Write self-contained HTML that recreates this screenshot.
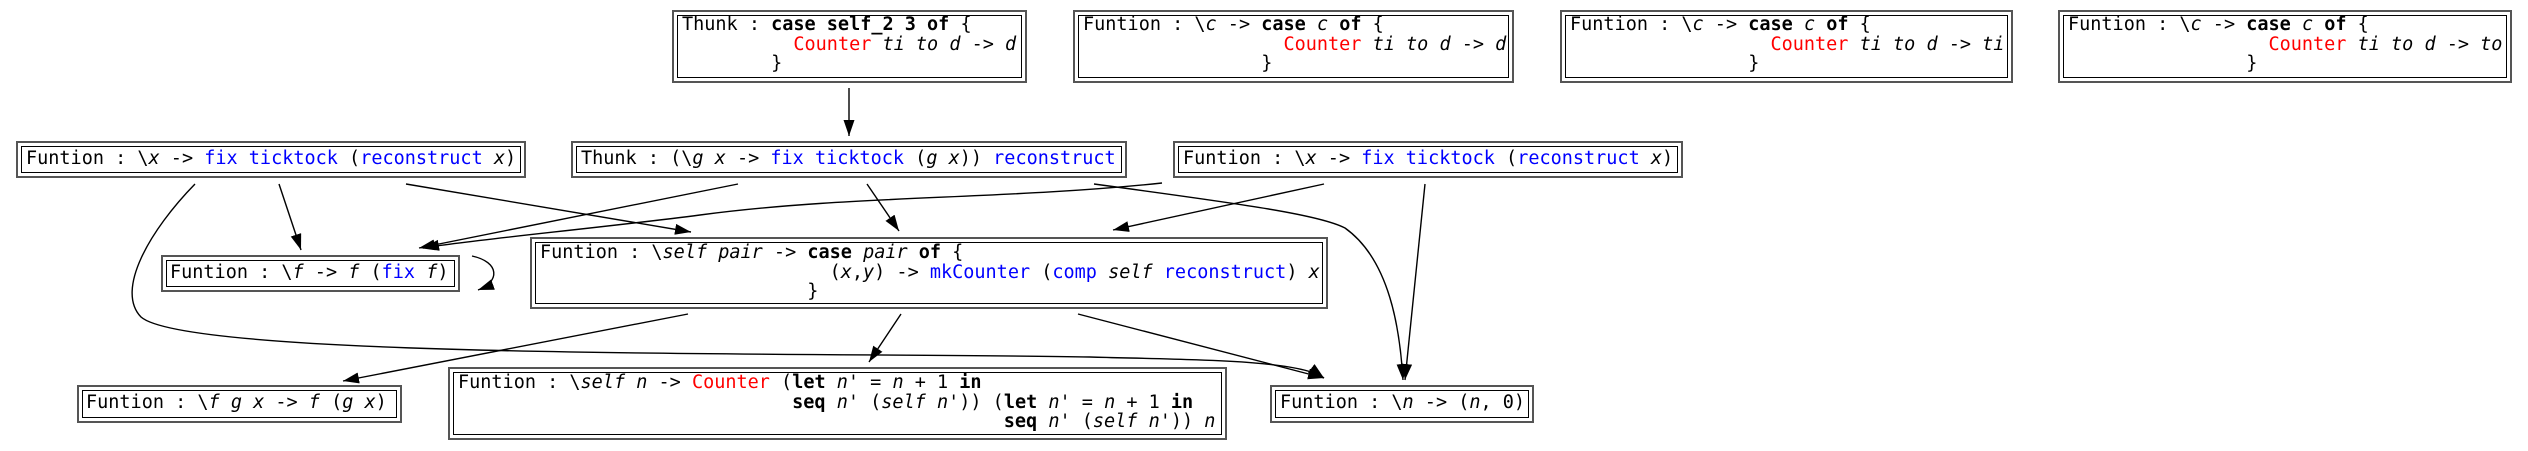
<!DOCTYPE html>
<html><head><meta charset="utf-8">
<style>
html,body{margin:0;padding:0;background:#fff;}
body{width:2528px;height:451px;position:relative;overflow:hidden;}
.n{position:absolute;border:2px solid #555;box-sizing:border-box;}
.n::after{content:"";position:absolute;left:3px;top:3px;right:3px;bottom:3px;border:1.5px solid #000;}
.t{position:absolute;white-space:pre;font-family:"DejaVu Sans Mono","Liberation Mono",monospace;font-size:18.5px;line-height:19.5px;color:#000;}
b{font-weight:bold}
i{font-style:italic}
.bl{color:#0000ff}
.r{color:#ff0000}
svg{position:absolute;left:0;top:0}
</style></head><body>
<svg width="2528" height="451" viewBox="0 0 2528 451">
<defs><marker id="a" markerUnits="userSpaceOnUse" markerWidth="18" markerHeight="12" refX="16" refY="5.5" orient="auto"><path d="M0,0 L16,5.5 L0,11 z" fill="#000"/></marker></defs>
<g fill="none" stroke="#000" stroke-width="1.4" marker-end="url(#a)">
<path d="M849,88 L849,136"/>
<path d="M279,184 L301,250"/>
<path d="M406,184 L691,232"/>
<path d="M195,184 C150,230 115,290 141,317 C190,360 820,352 1090,357 C1200,360 1300,360 1324,378"/>
<path d="M738,184 L419,248"/>
<path d="M867,184 L899,231"/>
<path d="M1094,184 C1250,205 1320,215 1345,228 C1390,260 1400,330 1403,380"/>
<path d="M1162,183 C1000,200 850,195 700,215 C600,228 470,240 423,248"/>
<path d="M1324,184 L1113,230"/>
<path d="M1425,184 L1405,380"/>
<path d="M472,256 C500,262 500,282 478,290"/>
<path d="M688,314 L343,381"/>
<path d="M901,314 L869,362"/>
<path d="M1078,314 L1324,378"/>
</g>
</svg>

<div class="n" style="left:672px;top:10px;width:355px;height:73px"></div>
<div class="t" style="left:682px;top:15px">Thunk : <b>case self_2 3 of</b> {
          <span class="r">Counter</span> <i>ti</i> <i>to</i> <i>d</i> -&gt; <i>d</i>
        }</div>

<div class="n" style="left:1073px;top:10px;width:441px;height:73px"></div>
<div class="t" style="left:1083px;top:15px">Funtion : \<i>c</i> -&gt; <b>case</b> <i>c</i> <b>of</b> {
                  <span class="r">Counter</span> <i>ti</i> <i>to</i> <i>d</i> -&gt; <i>d</i>
                }</div>

<div class="n" style="left:1560px;top:10px;width:453px;height:73px"></div>
<div class="t" style="left:1570px;top:15px">Funtion : \<i>c</i> -&gt; <b>case</b> <i>c</i> <b>of</b> {
                  <span class="r">Counter</span> <i>ti</i> <i>to</i> <i>d</i> -&gt; <i>ti</i>
                }</div>

<div class="n" style="left:2058px;top:10px;width:454px;height:73px"></div>
<div class="t" style="left:2068px;top:15px">Funtion : \<i>c</i> -&gt; <b>case</b> <i>c</i> <b>of</b> {
                  <span class="r">Counter</span> <i>ti</i> <i>to</i> <i>d</i> -&gt; <i>to</i>
                }</div>

<div class="n" style="left:16px;top:141px;width:510px;height:37px"></div>
<div class="t" style="left:26px;top:149px">Funtion : \<i>x</i> -&gt; <span class="bl">fix</span> <span class="bl">ticktock</span> (<span class="bl">reconstruct</span> <i>x</i>)</div>

<div class="n" style="left:571px;top:141px;width:556px;height:37px"></div>
<div class="t" style="left:581px;top:149px">Thunk : (\<i>g</i> <i>x</i> -&gt; <span class="bl">fix</span> <span class="bl">ticktock</span> (<i>g</i> <i>x</i>)) <span class="bl">reconstruct</span></div>

<div class="n" style="left:1173px;top:141px;width:510px;height:37px"></div>
<div class="t" style="left:1183px;top:149px">Funtion : \<i>x</i> -&gt; <span class="bl">fix</span> <span class="bl">ticktock</span> (<span class="bl">reconstruct</span> <i>x</i>)</div>

<div class="n" style="left:161px;top:255px;width:299px;height:37px"></div>
<div class="t" style="left:170px;top:263px">Funtion : \<i>f</i> -&gt; <i>f</i> (<span class="bl">fix</span> <i>f</i>)</div>

<div class="n" style="left:530px;top:237px;width:798px;height:72px"></div>
<div class="t" style="left:540px;top:243px">Funtion : \<i>self</i> <i>pair</i> -&gt; <b>case</b> <i>pair</i> <b>of</b> {
                          (<i>x</i>,<i>y</i>) -&gt; <span class="bl">mkCounter</span> (<span class="bl">comp</span> <i>self</i> <span class="bl">reconstruct</span>) <i>x</i>
                        }</div>

<div class="n" style="left:77px;top:385px;width:325px;height:38px"></div>
<div class="t" style="left:86px;top:393px">Funtion : \<i>f</i> <i>g</i> <i>x</i> -&gt; <i>f</i> (<i>g</i> <i>x</i>)</div>

<div class="n" style="left:448px;top:367px;width:779px;height:73px"></div>
<div class="t" style="left:458px;top:373px">Funtion : \<i>self</i> <i>n</i> -&gt; <span class="r">Counter</span> (<b>let</b> <i>n</i>' = <i>n</i> + 1 <b>in</b>
                              <b>seq</b> <i>n</i>' (<i>self</i> <i>n</i>')) (<b>let</b> <i>n</i>' = <i>n</i> + 1 <b>in</b>
                                                 <b>seq</b> <i>n</i>' (<i>self</i> <i>n</i>')) <i>n</i></div>

<div class="n" style="left:1270px;top:385px;width:264px;height:38px"></div>
<div class="t" style="left:1280px;top:393px">Funtion : \<i>n</i> -&gt; (<i>n</i>, 0)</div>
</body></html>
